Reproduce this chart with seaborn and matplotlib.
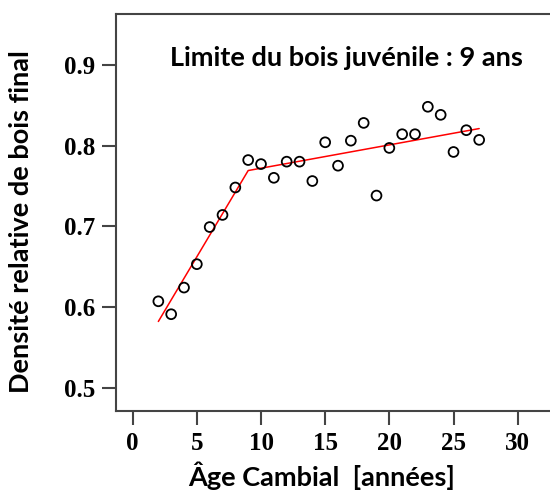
import numpy as np
import pandas as pd
import seaborn as sns
import matplotlib.pyplot as plt

# Data
ages = [2, 3, 4, 5, 6, 7, 8, 9, 10, 11, 12, 13, 14, 15,
        16, 17, 18, 19, 20, 21, 22, 23, 24, 25, 26, 27]
density = [0.607, 0.591, 0.624, 0.653, 0.699, 0.714, 0.748, 0.782, 0.777,
           0.760, 0.780, 0.780, 0.756, 0.804, 0.775, 0.806, 0.828, 0.738,
           0.797, 0.814, 0.814, 0.848, 0.838, 0.792, 0.819, 0.807]

# piecewise (segmented) fit, break at 9 years
fit_age = [2, 9, 27]
fit_density = [0.582, 0.769, 0.821]

x_ticks = [0, 5, 10, 15, 20, 25, 30]
y_ticks = [0.5, 0.6, 0.7, 0.8, 0.9]

TITLE = "Limite du bois juvénile : 9 ans"
XLABEL = "Âge Cambial  [années]"
YLABEL = "Densité relative de bois final"

sns.set_theme(style="ticks")
plt.rcParams["font.family"] = ["Lato", "DejaVu Sans"]
plt.rcParams["text.color"] = "black"
plt.rcParams["axes.labelcolor"] = "black"
plt.rcParams["xtick.labelcolor"] = "black"
plt.rcParams["ytick.labelcolor"] = "black"

df = pd.DataFrame({"age": ages, "density": density})
fit = pd.DataFrame({"age": fit_age, "density": fit_density})

fig = plt.figure(figsize=(5.5, 4.93), dpi=100)
ax = fig.add_axes([0.2109, 0.167, 0.812, 0.8047])

sns.scatterplot(data=df, x="age", y="density", ax=ax, marker="o",
                facecolor="none", edgecolor="black", s=50, linewidth=1.3,
                zorder=3)
sns.lineplot(data=fit, x="age", y="density", ax=ax, color="red",
             linewidth=1.1, zorder=2)

ax.set_xlim(-1.3, 33.5)
ax.set_ylim(0.4715, 0.963)
ax.set_xticks(x_ticks)
ax.set_yticks(y_ticks)
ax.set_xticklabels([str(t) for t in x_ticks], family="Liberation Serif",
                   fontweight="bold", fontsize=18)
ax.set_yticklabels([f"{t:.1f}" for t in y_ticks], family="Liberation Serif",
                   fontweight="bold", fontsize=18)
ax.tick_params(axis="both", length=10, width=1.5, color="#444444",
               direction="out", pad=5)

for side in ["left", "bottom", "top"]:
    ax.spines[side].set_color("#444444")
    ax.spines[side].set_linewidth(1.5)
ax.spines["right"].set_visible(False)

ax.set_xlabel(XLABEL, fontsize=19.5, fontweight="bold")
ax.set_ylabel(YLABEL, fontsize=19.5, fontweight="bold")
ax.xaxis.set_label_coords(0.461, -0.127)
ax.yaxis.set_label_coords(-0.186, 0.476)

ax.text(0.515, 0.889, TITLE, transform=ax.transAxes, ha="center",
        va="center", fontsize=19.5, fontweight="bold")

fig.savefig("out.png", dpi=100)
